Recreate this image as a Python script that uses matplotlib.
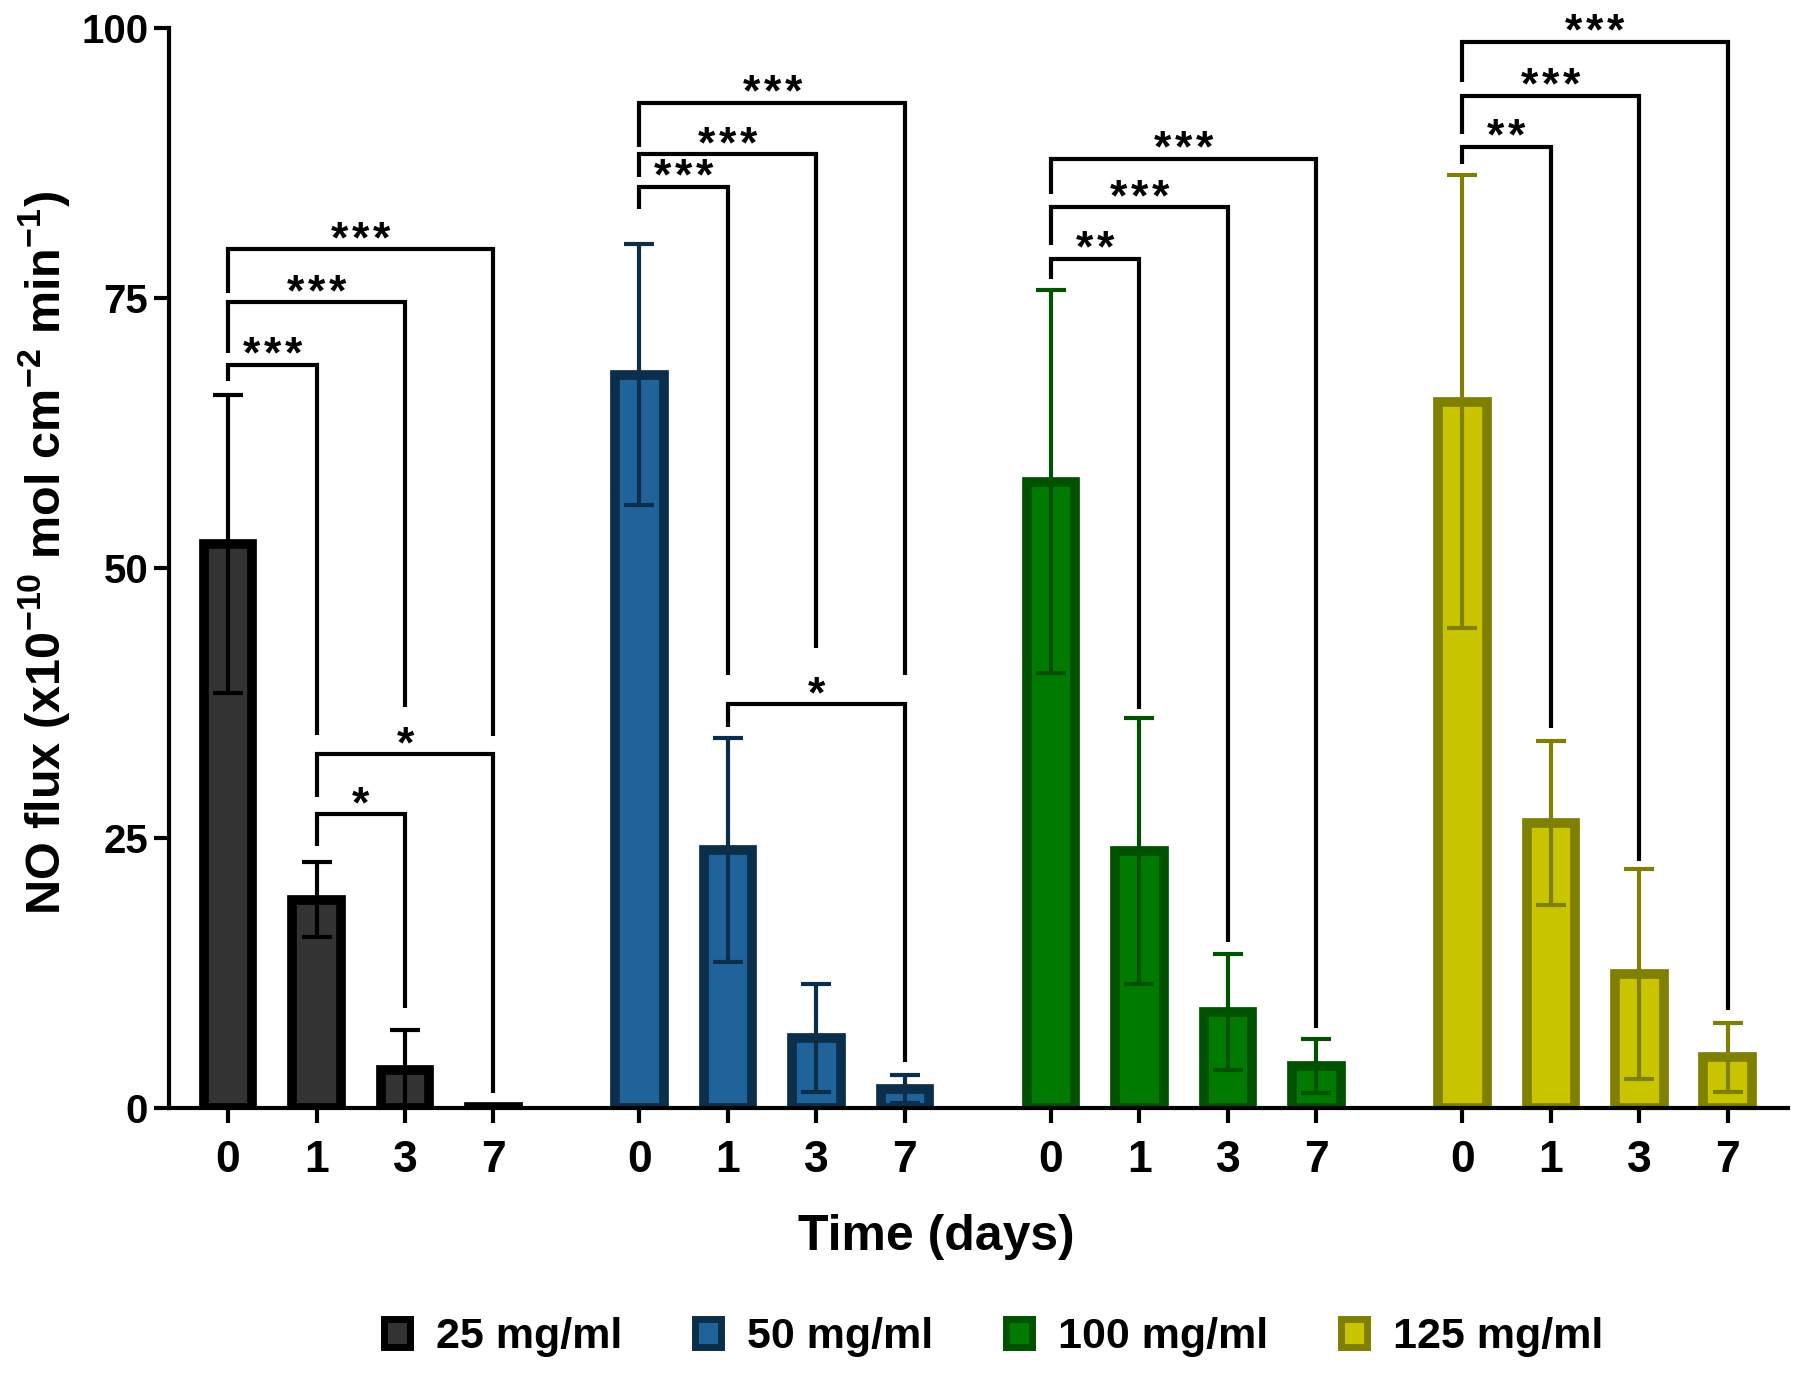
import matplotlib
matplotlib.use("Agg")
import matplotlib.pyplot as plt
from matplotlib.patches import Patch
import numpy as np

plt.rcParams['font.family'] = ['Liberation Sans', 'DejaVu Sans']
plt.rcParams['font.weight'] = 'bold'
plt.rcParams['mathtext.fontset'] = 'custom'
plt.rcParams['mathtext.rm'] = 'Liberation Sans:bold'
plt.rcParams['mathtext.bf'] = 'Liberation Sans:bold'
plt.rcParams['mathtext.it'] = 'Liberation Sans:bold'
plt.rcParams['mathtext.default'] = 'bf'

# ---- data ----
days = ["0", "1", "3", "7"]
series = ["25 mg/ml", "50 mg/ml", "100 mg/ml", "125 mg/ml"]
mean_25 = [52.2, 19.3, 3.5, 0.1]
sd_25 = [13.8, 3.5, 3.7, 0.0]
mean_50 = [67.9, 23.9, 6.5, 1.8]
sd_50 = [12.1, 10.4, 5.0, 1.3]
mean_100 = [58.0, 23.8, 8.9, 3.9]
sd_100 = [17.7, 12.3, 5.4, 2.5]
mean_125 = [65.4, 26.4, 12.4, 4.7]
sd_125 = [21.0, 7.6, 9.7, 3.2]
means = [mean_25, mean_50, mean_100, mean_125]
sds = [sd_25, sd_50, sd_100, sd_125]

fill_colors = ["#333333", "#20639b", "#007a00", "#c8c400"]
edge_colors = ["#000000", "#0b2f4a", "#005200", "#808000"]

# significance brackets: (group, from_idx, to_idx, bracket_y, left_leg_bottom, right_leg_bottom, label)
brk_group = [0, 0, 0, 0, 0,
             1, 1, 1, 1,
             2, 2, 2,
             3, 3, 3]
brk_from = [0, 0, 0, 1, 1,
            0, 0, 0, 1,
            0, 0, 0,
            0, 0, 0]
brk_to = [1, 2, 3, 2, 3,
          1, 2, 3, 3,
          1, 2, 3,
          1, 2, 3]
brk_y = [68.8, 74.6, 79.5, 27.2, 32.8,
         85.3, 88.3, 93.1, 37.4,
         78.6, 83.4, 87.9,
         89.0, 93.7, 98.7]
brk_left = [67.3, 69.9, 75.5, 24.3, 28.8,
            83.2, 86.2, 89.0, 35.3,
            76.8, 79.9, 84.6,
            87.4, 90.2, 95.0]
brk_right = [34.5, 37.1, 34.4, 9.3, 1.4,
             40.1, 42.6, 40.1, 4.3,
             36.9, 15.4, 7.4,
             35.2, 22.9, 9.1]
brk_label = ["***", "***", "***", "*", "*",
             "***", "***", "***", "*",
             "**", "***", "***",
             "**", "***", "***"]

# ---- figure ----
fig = plt.figure(figsize=(18, 13.75), dpi=100)
ax = fig.add_axes([169/1800, 1-1108/1375, (1788-169)/1800, (1108-28)/1375])

group_step = 4.65
bar_w = 0.55
base = np.arange(len(days))

for g in range(len(series)):
    x = g*group_step + base
    ax.bar(x, means[g], width=bar_w, color=fill_colors[g], edgecolor=edge_colors[g],
           linewidth=7, zorder=2)
    ax.errorbar(x, means[g], yerr=sds[g], fmt='none', ecolor=edge_colors[g],
                elinewidth=3, capsize=11, capthick=3, zorder=3)

for k in range(len(brk_y)):
    g = brk_group[k]
    x1 = g*group_step + brk_from[k]
    x2 = g*group_step + brk_to[k]
    ax.plot([x1, x1, x2, x2], [brk_left[k], brk_y[k], brk_y[k], brk_right[k]],
            color='black', lw=3, solid_capstyle='butt', solid_joinstyle='miter',
            zorder=4, clip_on=False)
    ax.text((x1+x2)/2, brk_y[k]-0.3, "\u200a".join(brk_label[k]), ha='center',
            va='baseline', fontsize=32, fontweight='bold', zorder=5)

ax.set_xlim(-0.667, 3*group_step + 3 + 0.68)
ax.set_ylim(0, 100)
ax.set_yticks([0, 25, 50, 75, 100])
xt = np.concatenate([g*group_step + base for g in range(len(series))])
ax.set_xticks(xt)
ax.set_xticklabels(days*len(series))

for s in ['top', 'right']:
    ax.spines[s].set_visible(False)
for s in ['left', 'bottom']:
    ax.spines[s].set_linewidth(3)
ax.tick_params(axis='both', width=3, length=11, direction='out')
ax.tick_params(axis='y', labelsize=29, pad=4)
ax.tick_params(axis='x', labelsize=32, pad=12)
for lab in ax.get_xticklabels() + ax.get_yticklabels():
    lab.set_fontweight('bold')

ax.set_ylabel(r"NO flux (x10$^{-10}$ mol cm$^{-2}$ min$^{-1}$)",
              fontsize=35, fontweight='bold')
ax.yaxis.set_label_coords(-0.060, 0.514)
ax.set_xlabel("Time (days)", fontsize=36, fontweight='bold')
ax.xaxis.set_label_coords(0.474, -0.098)

handles = [Patch(facecolor=fill_colors[g], edgecolor=edge_colors[g], linewidth=5,
                 label=series[g]) for g in range(len(series))]
leg = fig.legend(handles=handles, loc='center', bbox_to_anchor=(0.552, 0.0276), ncol=4,
                 frameon=False, fontsize=31, handlelength=0.6, handleheight=0.6,
                 handletextpad=0.6, columnspacing=1.7)
for t in leg.get_texts():
    t.set_fontweight('bold')

fig.savefig("out.png", dpi=100)
